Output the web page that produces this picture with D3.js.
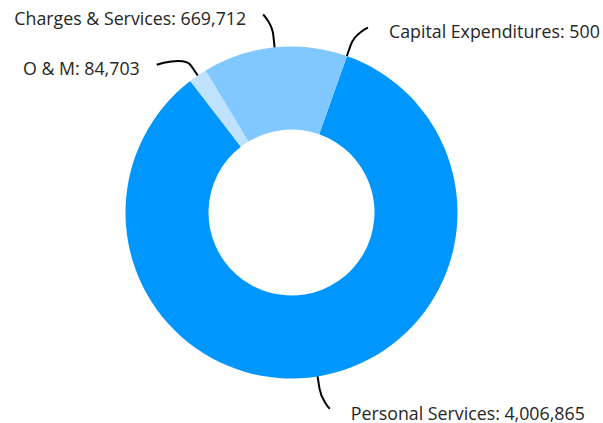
<!DOCTYPE html>
<html>
<head>
<meta charset="utf-8">
<script src="https://cdn.jsdelivr.net/npm/d3@7"></script>
<style>
  html, body { margin: 0; padding: 0; background: #fff; }
  svg { display: block; }
  text { font-family: "Open Sans", sans-serif; font-size: 17.8px; fill: #262626; }
</style>
</head>
<body>
<svg id="chart" width="603" height="423"></svg>
<script>
// Budget breakdown by expense type
const categories = ["Personal Services", "O & M", "Charges & Services", "Capital Expenditures"];
const values = [4006865, 84703, 669712, 500];
const colors = ["#0096ff", "#bfe3ff", "#80c8ff", "#e6f4ff"];
// small angular nudges (degrees) that spread the labels apart
const labelShift = [-2, -8, -2.3, 3];

const width = 603, height = 423;
const cx = 291.5, cy = 212.5;
const outerR = 166, innerR = 83;
const labelR = outerR + 34, breakR = outerR + 12;

const rad = d => d * Math.PI / 180;
const startAngle = rad(19.5);

const data = categories.map((name, i) => ({ name, value: values[i], color: colors[i], shift: labelShift[i] }));

const pie = d3.pie()
  .sort(null)
  .value(d => d.value)
  .startAngle(startAngle)
  .endAngle(startAngle + 2 * Math.PI);

const arc = d3.arc().innerRadius(innerR).outerRadius(outerR);

const svg = d3.select("#chart");
const g = svg.append("g").attr("transform", `translate(${cx},${cy})`);

const arcs = pie(data);

g.selectAll("path.slice")
  .data(arcs)
  .join("path")
  .attr("class", "slice")
  .attr("d", arc)
  .attr("fill", d => d.data.color);

const polar = (r, a) => [r * Math.sin(a), -r * Math.cos(a)];
const fmt = d3.format(",");

arcs.forEach(d => {
  const mid = (d.startAngle + d.endAngle) / 2;
  const edge = polar(outerR, mid);
  const brk = polar(breakR, mid);
  const end = polar(labelR, mid + rad(d.data.shift));
  const right = end[0] > 0;
  const c2 = [2 * brk[0] - edge[0], 2 * brk[1] - edge[1]];

  const p = d3.path();
  p.moveTo(end[0], end[1]);
  p.bezierCurveTo(end[0], end[1], c2[0], c2[1], brk[0], brk[1]);
  p.lineTo(edge[0], edge[1]);

  g.append("path")
    .attr("d", p.toString())
    .attr("fill", "none")
    .attr("stroke", "#000")
    .attr("stroke-width", 2);

  g.append("text")
    .attr("x", right ? end[0] + 21 : end[0] - 17)
    .attr("y", end[1] + 4.5)
    .attr("dy", "0.35em")
    .attr("text-anchor", right ? "start" : "end")
    .text(`${d.data.name}: ${fmt(d.data.value)}`);
});
</script>
</body>
</html>
